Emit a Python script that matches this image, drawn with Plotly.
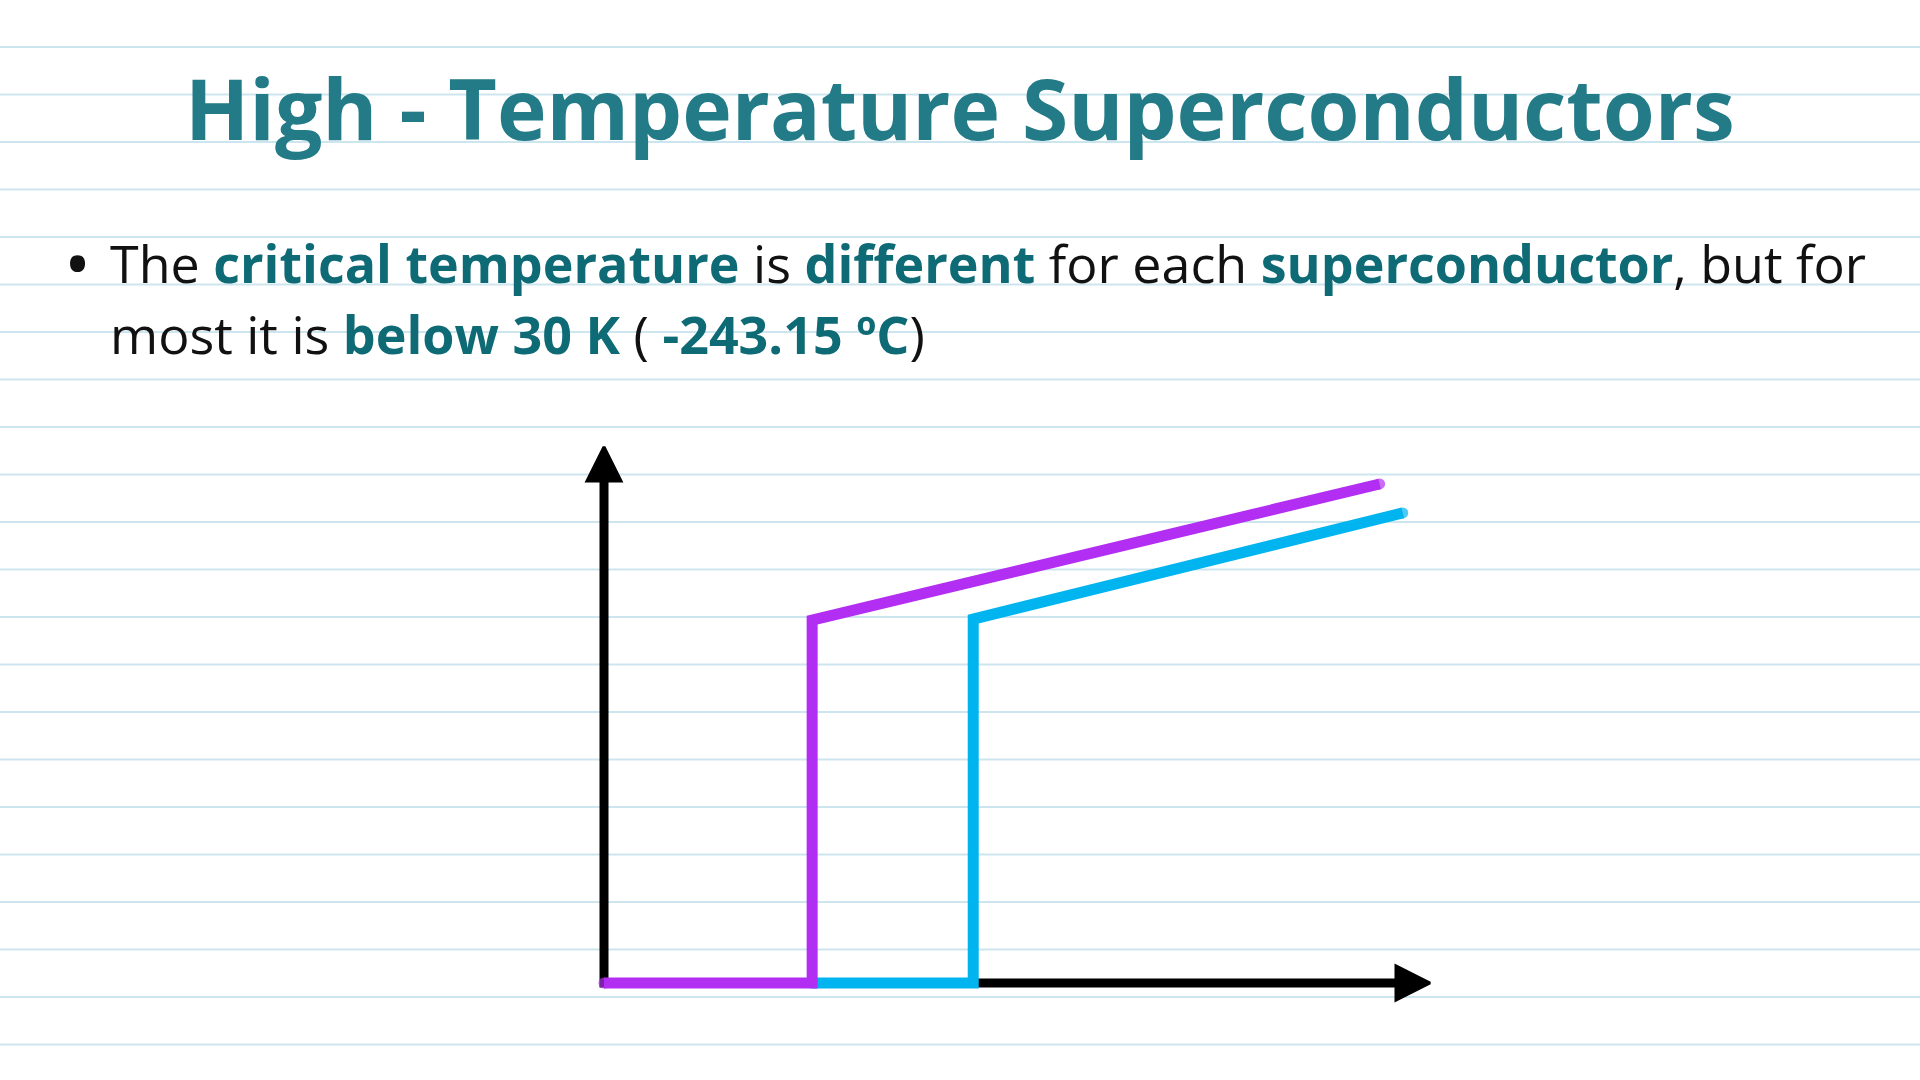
import plotly.graph_objects as go

# --- data (arbitrary units: T in K, R relative) ---
temp_axis_max = 100
res_axis_max = 100

purple_T = [0, 25.2, 25.2, 93.9]
purple_R = [0, 0, 67.7, 93.1]

cyan_T = [25.2, 44.7, 44.7, 96.7]
cyan_R = [0, 0, 67.9, 87.7]

title_text = "High - Temperature Superconductors"
KEY = "#0E6B76"
bullet_lines = [
    f"The <span style='color:{KEY}'><b>critical temperature</b></span> is "
    f"<span style='color:{KEY}'><b>different</b></span> for each "
    f"<span style='color:{KEY}'><b>superconductor</b></span>, but for",
    f"most it is <span style='color:{KEY}'><b>below 30 K</b></span> ( "
    f"<span style='color:{KEY}'><b>-243.15 ºC</b></span>)",
]

W, H = 1920, 1080
FONT = "Open Sans"
PURPLE = "#B22EF2"
CYAN = "#00B4F0"
TEAL = "#227B87"
RULE = "#CDE5EE"
LW = 11

# pixel placement of the sketch axes
x0_px, x_tip_px = 604, 1430
y0_px, y_tip_px = 983, 447
sx = (x_tip_px - x0_px) / temp_axis_max
sy = (y0_px - y_tip_px) / res_axis_max
head = 34  # arrowhead length in px

fig = go.Figure()

# hand-drawn style axes: shafts + arrowheads (drawn first, curves go on top)
fig.add_trace(go.Scatter(
    x=[0, 0, temp_axis_max - head * 0.6 / sx],
    y=[res_axis_max - head * 0.6 / sy, 0, 0],
    mode="lines", line=dict(color="black", width=9), hoverinfo="skip"))
fig.add_trace(go.Scatter(
    x=[0, temp_axis_max], y=[res_axis_max, 0], mode="markers", hoverinfo="skip",
    marker=dict(symbol=["arrow-up", "arrow-right"], size=head, color="black",
                line=dict(color="black", width=3))))


def curve(xs, ys, color):
    # round caps imitated by dots on the two free ends
    return go.Scatter(x=xs, y=ys, mode="lines+markers", hoverinfo="skip",
                      line=dict(color=color, width=LW),
                      marker=dict(color=color, size=[LW, 0, 0, LW], line=dict(width=0)))


# cyan first so the purple corner sits on top
fig.add_trace(curve(cyan_T, cyan_R, CYAN))
fig.add_trace(curve(purple_T, purple_R, PURPLE))

# notebook ruling
shapes = []
for i in range(22):
    yp = 47 + i * 47.5
    shapes.append(dict(type="line", xref="paper", yref="paper", x0=0, x1=1,
                       y0=1 - yp / H, y1=1 - yp / H, layer="below",
                       line=dict(color=RULE, width=2)))

annotations = [
    dict(x=0.5, y=1 - 108 / H, xref="paper", yref="paper", showarrow=False,
         text=f"<b>{title_text}</b>", font=dict(family=FONT, size=84, color=TEAL),
         xanchor="center", yanchor="middle"),
    dict(x=77 / W, y=1 - 262 / H, xref="paper", yref="paper", showarrow=False,
         text="•", font=dict(family=FONT, size=72, color="#111111"),
         xanchor="center", yanchor="middle"),
]
for k, line in enumerate(bullet_lines):
    annotations.append(dict(x=108 / W, y=1 - (262 + k * 71) / H, xref="paper", yref="paper",
                            showarrow=False, text=line, xanchor="left", yanchor="middle",
                            font=dict(family=FONT, size=52, color="#111111")))

fig.update_layout(
    width=W, height=H,
    margin=dict(l=0, r=0, t=0, b=0),
    paper_bgcolor="white", plot_bgcolor="rgba(0,0,0,0)",
    showlegend=False,
    shapes=shapes,
    annotations=annotations,
    xaxis=dict(range=[-x0_px / sx, (W - x0_px) / sx], visible=False, fixedrange=True),
    yaxis=dict(range=[-(H - y0_px) / sy, y0_px / sy], visible=False, fixedrange=True),
)

fig.write_html("out.html", config={"displayModeBar": False},
               post_script="document.body.style.margin='0px';")
